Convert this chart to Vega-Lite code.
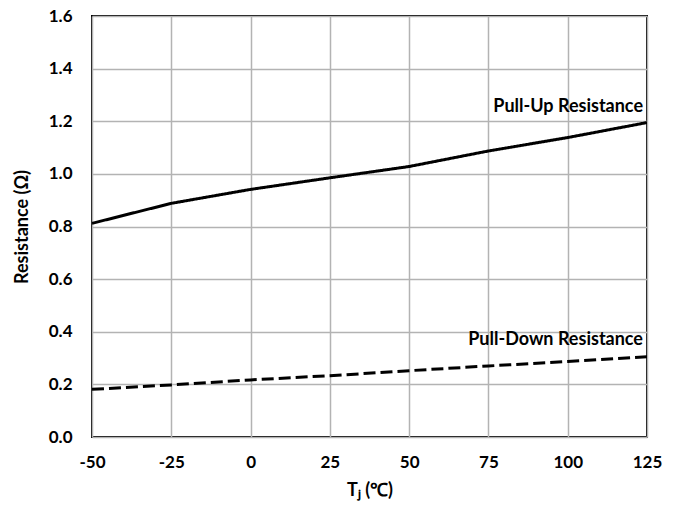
{
  "$schema": "https://vega.github.io/schema/vega-lite/v6.json",
  "width": 555,
  "height": 421,
  "autosize": "none",
  "padding": {"left": 92, "top": 16, "right": 36, "bottom": 77},
  "background": "white",
  "config": {
    "view": {"stroke": "black", "strokeWidth": 2},
    "font": "Lato",
    "axis": {
      "gridColor": "#b3b3b3",
      "gridWidth": 1.5,
      "domain": false,
      "ticks": false,
      "labelFont": "Lato",
      "labelFontWeight": "bold",
      "labelFontSize": 17,
      "labelColor": "black",
      "labelFlush": false,
      "titleFont": "Lato",
      "titleFontWeight": "bold",
      "titleFontSize": 18,
      "titleColor": "black"
    }
  },
  "datasets": {
    "curves": [
      {"t": -50, "r": 0.812, "s": "Pull-Up"},
      {"t": -25, "r": 0.888, "s": "Pull-Up"},
      {"t": 0, "r": 0.941, "s": "Pull-Up"},
      {"t": 25, "r": 0.985, "s": "Pull-Up"},
      {"t": 50, "r": 1.028, "s": "Pull-Up"},
      {"t": 75, "r": 1.087, "s": "Pull-Up"},
      {"t": 100, "r": 1.138, "s": "Pull-Up"},
      {"t": 125, "r": 1.195, "s": "Pull-Up"},
      {"t": -50, "r": 0.181, "s": "Pull-Down"},
      {"t": -25, "r": 0.198, "s": "Pull-Down"},
      {"t": 0, "r": 0.217, "s": "Pull-Down"},
      {"t": 25, "r": 0.233, "s": "Pull-Down"},
      {"t": 50, "r": 0.252, "s": "Pull-Down"},
      {"t": 75, "r": 0.270, "s": "Pull-Down"},
      {"t": 100, "r": 0.287, "s": "Pull-Down"},
      {"t": 125, "r": 0.305, "s": "Pull-Down"}
    ],
    "labels": [
      {"t": 125, "r": 1.235, "label": "Pull-Up Resistance"},
      {"t": 125, "r": 0.35, "label": "Pull-Down Resistance"}
    ]
  },
  "layer": [
    {
      "data": {"name": "curves"},
      "mark": {"type": "line", "strokeWidth": 3, "color": "black", "clip": true},
      "encoding": {
        "x": {
          "field": "t", "type": "quantitative",
          "scale": {"domain": [-50, 125], "nice": false, "zero": false},
          "axis": {"values": [-50, -25, 0, 25, 50, 75, 100, 125], "labelExpr": "replace(datum.label, '−', '-')", "labelPadding": 17, "title": "Tⱼ (℃)", "titlePadding": 11}
        },
        "y": {
          "field": "r", "type": "quantitative",
          "scale": {"domain": [0, 1.6], "nice": false},
          "axis": {"values": [0, 0.2, 0.4, 0.6, 0.8, 1.0, 1.2, 1.4, 1.6], "format": ".1f", "labelPadding": 20, "title": "Resistance (Ω)", "titlePadding": 17}
        },
        "detail": {"field": "s"},
        "strokeDash": {
          "field": "s", "type": "nominal",
          "scale": {"domain": ["Pull-Up", "Pull-Down"], "range": [[1, 0], [12, 5]]},
          "legend": null
        }
      }
    },
    {
      "data": {"name": "labels"},
      "mark": {"type": "text", "align": "right", "baseline": "alphabetic", "dx": -4, "fontWeight": "bold", "fontSize": 18, "font": "Lato", "color": "black"},
      "encoding": {
        "x": {"field": "t", "type": "quantitative"},
        "y": {"field": "r", "type": "quantitative"},
        "text": {"field": "label"}
      }
    }
  ]
}
